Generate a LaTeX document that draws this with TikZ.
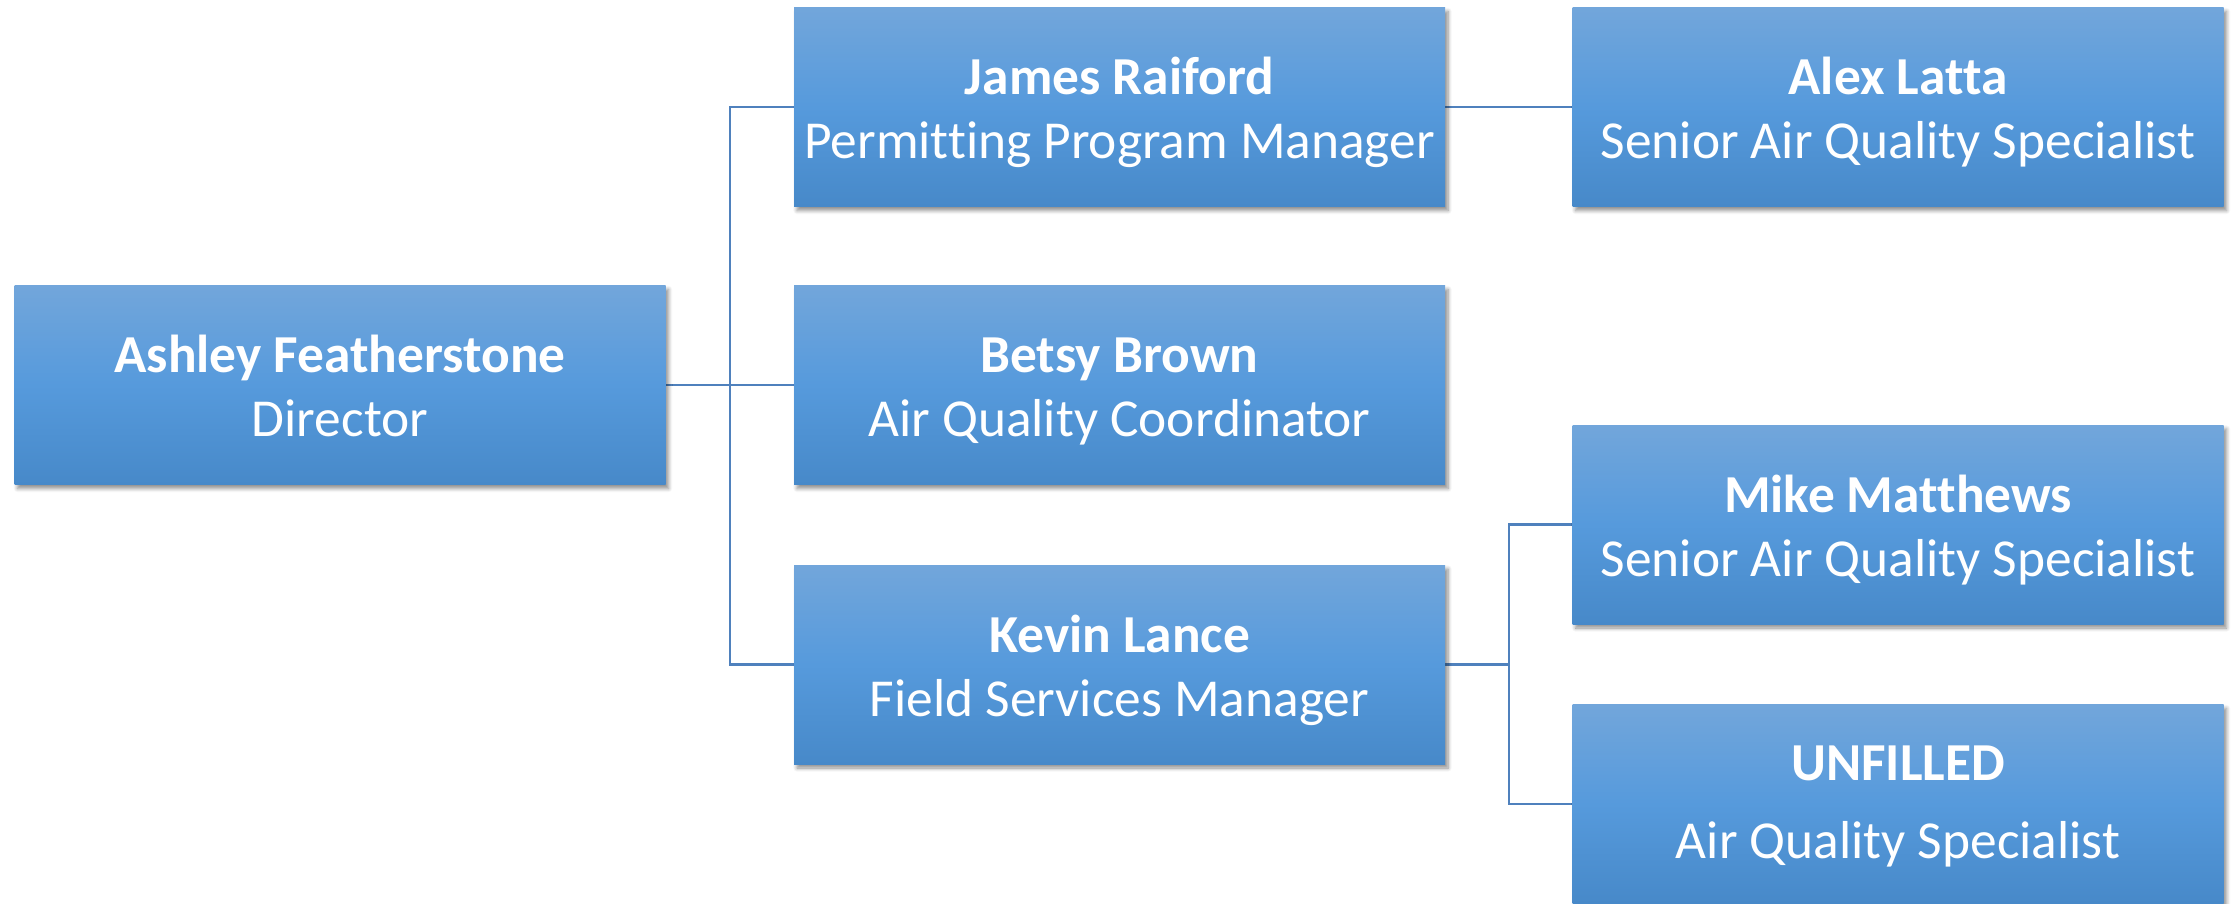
\documentclass[tikz,border=0pt]{standalone}
\usepackage{fontspec}
\setmainfont[Ligatures=NoCommon]{Carlito}
\usetikzlibrary{shadows.blur,backgrounds}
\definecolor{boxtop}{HTML}{72A6DB}
\definecolor{boxmid}{HTML}{569ADC}
\definecolor{boxbot}{HTML}{4789C9}
\definecolor{conncol}{HTML}{4F81BD}
\newcommand{\ststd}{\rule[-4.8pt]{0pt}{29.2pt}}
\newcommand{\stdeep}{\rule[-6.6pt]{0pt}{6.6pt}}
\tikzset{
  person/.style={rectangle, minimum width=325.5pt, minimum height=99.5pt,
    inner sep=0pt, align=center, text=white,
    font=\fontsize{26.7}{32}\selectfont,
    top color=boxtop, bottom color=boxbot, middle color=boxmid,
    blur shadow={shadow xshift=1.5pt, shadow yshift=-2pt, shadow blur steps=6, shadow opacity=45}},
  conn/.style={draw=conncol, line width=1.4pt}
}
\begin{document}
\begin{tikzpicture}[x=0.5pt,y=-0.5pt]
\useasboundingbox (0,0) rectangle (2236,904);
\node[person] (ash) at (340,385) {\ststd\textbf{Ashley Featherstone}\\\ststd Director};
\node[person] (james) at (1119.5,107) {\ststd\textbf{James Raiford}\\\ststd Permitting Program Manager};
\node[person] (betsy) at (1119.5,385) {\ststd\textbf{Betsy Brown}\\\ststd Air Quality Coordinator};
\node[person] (kevin) at (1119.5,664.5) {\ststd\textbf{Kevin Lance}\\\ststd Field Services Manager};
\node[person] (alex) at (1898,107) {\ststd\textbf{Alex Latta}\\\ststd Senior Air Quality Specialist};
\node[person] (mike) at (1898,524.5) {\ststd\textbf{Mike Matthews}\\\ststd Senior Air Quality Specialist};
\node[person] (unf) at (1898,804) {\rule[-4.8pt]{0pt}{26.4pt}\textbf{UNFILLED}\\[7pt]\stdeep Air Quality Specialist};
\coordinate (b1) at (730,385);
\coordinate (b2) at (1509,664.5);
\begin{scope}[on background layer]
\draw[conn] (ash.east) -- (betsy.west);
\draw[conn] (james.west) -| (b1) |- (kevin.west);
\draw[conn] (james.east) -- (alex.west);
\draw[conn] (kevin.east) -- (b2);
\draw[conn] (mike.west) -| (b2) |- (unf.west);
\end{scope}
\end{tikzpicture}
\end{document}
